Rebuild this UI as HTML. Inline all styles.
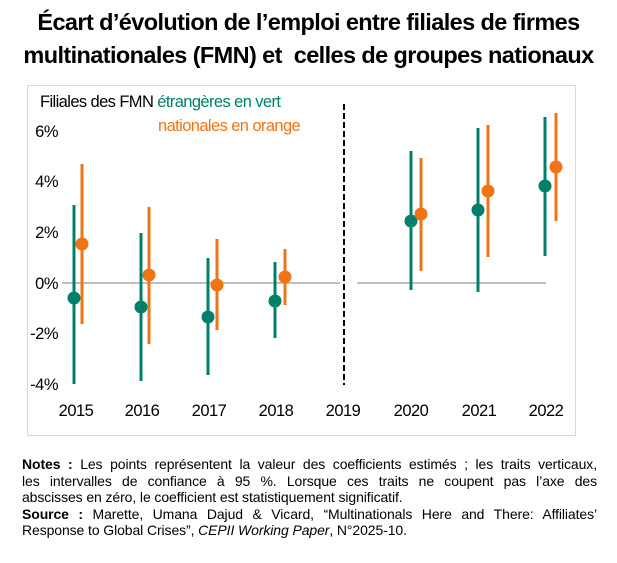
<!DOCTYPE html><html><head><meta charset="utf-8"><style>
body{margin:0;width:617px;height:563px;background:#fff;font-family:"Liberation Sans",sans-serif;overflow:hidden}
.t{position:absolute;left:0;width:617px;text-align:center;font-weight:bold;font-size:23.5px;line-height:33px;top:6px;letter-spacing:-0.6px}
.n{position:absolute;left:22px;width:575px;top:456px;font-size:14px;line-height:16.5px;letter-spacing:-0.1px}
.n div{white-space:nowrap}
.j{text-align:justify;text-align-last:justify}
</style></head><body>
<div class="t">Écart d’évolution de l’emploi entre filiales de firmes<br>multinationales (FMN) et &nbsp;celles de groupes nationaux</div>
<svg width="617" height="563" style="position:absolute;left:0;top:0;z-index:-1">
<rect x="27.5" y="85.5" width="548" height="350" fill="none" stroke="#d9d9d9"/>
<g font-size="16.5" fill="#000" text-anchor="end" letter-spacing="-0.5">
<text x="58" y="137">6%</text><text x="58" y="187">4%</text><text x="58" y="238">2%</text><text x="58" y="289">0%</text><text x="58" y="339">-2%</text><text x="58" y="390">-4%</text>
</g>
<g font-size="16.5" text-anchor="middle" letter-spacing="-0.5">
<text x="76" y="416">2015</text><text x="142" y="416">2016</text><text x="209" y="416">2017</text><text x="276" y="416">2018</text><text x="343" y="416">2019</text><text x="411" y="416">2020</text><text x="479" y="416">2021</text><text x="546" y="416">2022</text>
</g>
<text x="40" y="107" font-size="16.5" letter-spacing="-0.6">Filiales des FMN <tspan fill="#00806b">étrangères en vert</tspan></text>
<text x="158" y="131" font-size="16.5" fill="#f07416" letter-spacing="-0.6">nationales en orange</text>
<line x1="62" y1="283" x2="340" y2="283" stroke="#aaa" stroke-width="1.5"/>
<line x1="357" y1="283" x2="546" y2="283" stroke="#aaa" stroke-width="1.5"/>
<line x1="344" y1="104" x2="344" y2="385" stroke="#000" stroke-width="2" stroke-dasharray="6,3"/>
<g stroke="#00806b" stroke-width="3" fill="#00806b">
<line x1="74" y1="205" x2="74" y2="384"/><circle cx="74" cy="298" r="5"/>
<line x1="141" y1="233" x2="141" y2="381"/><circle cx="141" cy="307" r="5"/>
<line x1="208" y1="258" x2="208" y2="375"/><circle cx="208" cy="317" r="5"/>
<line x1="275" y1="262" x2="275" y2="338"/><circle cx="275" cy="301" r="5"/>
<line x1="411" y1="151" x2="411" y2="290"/><circle cx="411" cy="221" r="5"/>
<line x1="478" y1="128" x2="478" y2="292"/><circle cx="478" cy="210" r="5"/>
<line x1="545" y1="117" x2="545" y2="256"/><circle cx="545" cy="186" r="5"/>
</g>
<g stroke="#f07416" stroke-width="3" fill="#f07416">
<line x1="82" y1="164" x2="82" y2="324"/><circle cx="82" cy="244" r="5"/>
<line x1="149" y1="207" x2="149" y2="344"/><circle cx="149" cy="275" r="5"/>
<line x1="217" y1="239" x2="217" y2="330"/><circle cx="217" cy="285" r="5"/>
<line x1="285" y1="249" x2="285" y2="305"/><circle cx="285" cy="277" r="5"/>
<line x1="421" y1="158" x2="421" y2="271"/><circle cx="421" cy="214" r="5"/>
<line x1="488" y1="125" x2="488" y2="257"/><circle cx="488" cy="191" r="5"/>
<line x1="556" y1="113" x2="556" y2="221"/><circle cx="556" cy="167" r="5"/>
</g>
</svg>
<div class="n">
<div class="j"><b>Notes :</b> Les points représentent la valeur des coefficients estimés ; les traits verticaux,</div>
<div class="j">les intervalles de confiance à 95 %. Lorsque ces traits ne coupent pas l’axe des</div>
<div>abscisses en zéro, le coefficient est statistiquement significatif.</div>
<div class="j"><b>Source :</b> Marette, Umana Dajud &amp; Vicard, “Multinationals Here and There: Affiliates’</div>
<div>Response to Global Crises”, <i>CEPII Working Paper</i>, N°2025-10.</div>
</div>
</body></html>
